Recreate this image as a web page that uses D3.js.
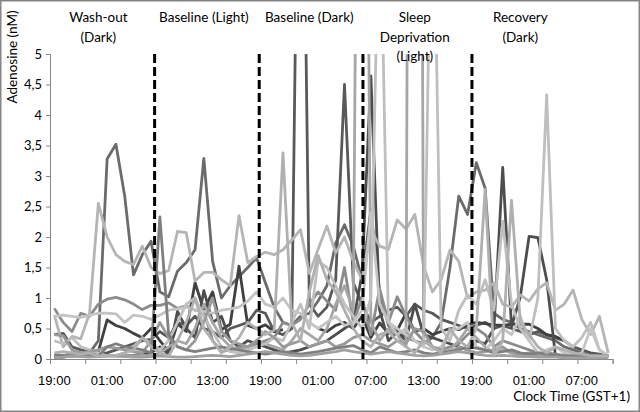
<!DOCTYPE html>
<html><head><meta charset="utf-8">
<script src="https://cdn.jsdelivr.net/npm/d3@7"></script>
<style>html,body{margin:0;padding:0;background:#fff;}svg{display:block;font-family:Lato,"Open Sans",sans-serif;}</style>
</head><body><svg id="c" width="640" height="412"></svg>
<script>
// hourly categories starting 19:00 (64 hours)
const hourLabels = ["19:00","01:00","07:00","13:00","19:00","01:00","07:00","13:00","19:00","01:00","07:00"];
const yTicks = [0,0.5,1,1.5,2,2.5,3,3.5,4,4.5,5];
const phaseNames = [["Wash-out","(Dark)"],["Baseline (Light)"],["Baseline (Dark)"],["Sleep","Deprivation","(Light)"],["Recovery","(Dark)"]];
const phaseCenters = [5.5, 17.5, 29.5, 41.5, 53.5];
const phaseBorders = [11.9, 23.8, 35.6, 48.0];
const seriesColors = ["#6b6b6b","#595959","#404040","#4d4d4d","#8c8c8c","#b5b5b5","#a6a6a6","#bfbfbf","#c4c4c4","#9a9a9a","#7f7f7f","#a0a0a0","#b0b0b0"];
const sA=[0.05,0.05,0.07,0.08,0.1,0.3,3.28,3.52, 2.67,1.38,1.71,1.93,1.1,1.02,1.44,1.58, 1.79,3.29,1.6,1.0,1.2,1.35,1.5,1.66, 1.25,0.85,0.6,0.55,0.7,0.75,0.95,1.2, 1.9,2.2,1.85,1.3,2.45,1.1,0.55,0.45, 0.35,0.3,0.25,0.35,0.6,1.5,2.67,2.37, 3.22,2.8,0.75,0.65,0.6,0.5,0.45,0.4, 0.35,0.3,0.2,0.15,0.1,0.05,0.05,0.05];
const sB=[0.4,0.42,0.2,0.15,0.12,0.08,0.1,0.15, 0.2,0.25,0.3,0.32,0.45,0.35,0.6,0.55, 0.7,0.5,0.45,0.35,0.5,0.55,0.6,0.8, 0.75,0.45,0.4,0.5,12,0.9,0.7,0.85, 1.3,4.5,1.25,0.9,0.6,0.7,0.8,0.85, 0.7,0.9,0.8,0.75,0.65,0.6,0.55,0.5, 0.55,0.6,0.5,0.55,0.5,0.45,0.4,0.45, 0.4,0.35,0.3,0.2,0.15,0.1,0.08,0.05];
const sC=[0.02,0.03,0.05,0.08,0.1,0.12,0.64,0.55, 0.5,0.42,0.35,0.5,0.3,0.12,0.58,0.45, 1.25,0.8,1.1,0.48,0.57,1.52,0.55,0.5, 0.56,0.45,0.48,null,null,null,0.5,0.45, 0.55,0.6,0.5,0.7,0.35,0.59,0.42,0.47, 0.75,0.45,0.5,0.4,0.45,0.5,0.48,0.56, 0.6,0.58,0.56,0.55,0.57,0.57,0.57,0.5, 0.4,0.37,0.3,null,null,null,null,null];
const sD=[0.06,0.05,0.05,0.05,0.05,0.05,0.05,0.05, 0.05,0.06,0.08,0.1,0.2,0.08,0.78,0.5, 0.35,1.12,0.6,0.7,0.3,0.2,0.3,0.25, 0.2,0.15,0.1,0.12,0.15,0.2,0.25,0.3, 0.4,0.5,0.6,1.4,4.64,0.8,0.3,0.45, 0.3,0.9,0.4,0.35,0.3,0.25,0.2,0.15, 0.3,0.25,0.5,3.14,0.53,1.02,2.01,1.99, 1.3,0.05,0.05,0.05,0.05,0.04,0.04,0.04];
const sE=[0.83,0.6,0.45,0.75,0.7,0.9,0.98,1.01, 0.97,0.9,0.81,0.88,0.88,0.92,0.83,0.87, 0.8,0.78,0.3,0.12,0.15,0.2,0.2,0.25, 0.3,0.35,0.6,0.55,0.65,0.9,1.1,0.95, 0.8,1.5,0.6,1.0,0.4,1.15,0.6,1.02, 0.7,0.45,0.3,0.2,0.15,0.2,0.25,0.4, 0.5,0.4,0.2,0.3,0.25,0.2,0.15,0.1, 0.1,0.08,0.06,0.05,0.05,0.05,0.04,0.04];
const sF=[0.72,0.2,0.37,0.33,0.75,2.55,2.0,1.71, 1.6,1.55,1.85,1.5,1.4,1.45,2.09,2.07, 1.28,1.42,1.42,1.3,1.2,2.35,1.58,1.68, 1.75,1.71,1.79,1.95,2.12,1.4,1.8,2.18, 1.74,2.0,1.6,1.3,2.12,1.85,1.8,2.28, 2.13,2.37,1.52,1.1,1.3,1.79,1.6,1.0, 1.1,1.13,1.25,0.9,0.85,1.05,0.95,1.15, 1.25,0.8,0.9,1.13,0.65,0.4,0.7,0.1];
const sG=[0.05,0.04,0.04,0.05,0.05,0.05,0.06,0.05, 0.05,0.05,0.06,0.05,0.1,0.2,0.3,0.25, 0.5,0.9,0.6,0.35,0.2,0.15,0.2,0.3, 0.25,0.2,0.15,0.3,0.5,0.4,0.3,0.5, 0.9,1.2,0.8,20,0.6,0.3,0.5,0.4, 0.2,40,0.3,0.2,0.1,0.15,0.3,0.5, 0.35,0.2,0.1,0.15,0.1,0.08,0.06,0.05, 0.05,0.05,0.04,0.04,0.04,0.04,0.04,0.04];
const sH=[0.3,0.25,0.35,0.2,0.15,0.1,0.05,0.05, 0.1,0.2,0.35,0.25,0.15,0.3,0.6,0.9, 1.0,0.7,0.45,0.2,0.12,0.1,0.15,0.2, 0.25,0.35,0.3,0.6,0.9,0.5,1.6,1.5, 1.2,0.9,0.7,0.5,1.0,8,0.6,0.4, 0.5,0.3,0.2,9,0.5,0.3,0.8,1.05, 0.9,1.3,0.8,2.26,0.9,0.5,0.3,1.0, 4.33,0.5,0.3,0.2,0.35,0.6,0.15,0.05];
const sI=[0.7,0.72,0.7,0.68,0.72,0.75,0.75,0.74, 0.6,0.72,0.7,0.65,0.72,0.8,0.82,0.85, 0.8,0.78,0.75,0.8,0.82,0.85,0.95,1.1, 0.9,0.85,1.0,0.8,0.75,0.6,0.5,0.6, 0.7,0.55,0.6,0.8,2.4,0.9,0.6,0.5, 0.4,0.3,0.2,0.15,0.2,0.45,0.5,0.6, 0.2,0.15,0.3,0.5,0.4,0.7,0.3,0.1, 0.15,0.2,0.1,0.05,0.1,0.5,0.15,0.05];
const sJ=[0.4,0.38,0.15,0.1,0.12,0.15,0.2,0.18, 0.15,0.12,0.1,0.3,0.6,0.35,0.2,0.15, 0.3,0.6,1.0,0.45,0.3,0.25,0.2,0.3, 0.45,0.35,0.2,0.25,0.3,0.2,0.25,0.3, 0.2,0.25,0.35,0.4,0.3,0.25,0.2,0.3, 0.25,0.5,0.45,0.2,0.15,0.1,0.2,0.15, 0.1,0.12,0.15,0.2,0.1,0.08,0.1,0.05, 0.06,0.05,0.05,0.05,0.05,0.05,0.05,0.05];
const sK=[0.08,0.05,0.1,0.08,0.05,0.05,0.2,0.25, 0.2,0.18,0.15,0.1,2.33,0.4,0.2,0.15, 0.12,0.15,0.18,0.2,0.17,0.15,0.12,0.1, 0.08,0.1,0.12,0.1,0.08,0.1,0.12,0.15, 0.18,0.2,0.22,0.15,0.1,0.2,0.15,0.1, 0.12,0.15,0.1,0.08,0.1,0.12,0.15,0.2, 0.18,0.15,0.1,0.12,0.15,0.1,0.08,0.1, 0.08,0.06,0.05,0.05,0.06,0.05,0.05,0.05];
const sL=[0.02,0.03,0.05,0.04,0.03,0.04,0.05,0.05, 0.04,0.03,0.03,0.04,0.05,0.04,0.03,0.03, 0.04,0.05,0.06,0.05,0.04,0.06,0.08,0.1, 0.12,0.1,0.08,0.06,0.05,0.06,0.08,0.1, 0.12,0.15,0.12,0.1,0.08,0.1,0.12,0.1, 0.08,0.06,0.05,0.06,0.08,0.1,0.12,0.1, 0.08,0.06,0.05,0.06,0.05,0.04,0.04,0.03, 0.03,0.03,0.02,0.02,0.02,0.02,0.02,0.02];
const sM=[0.1,0.12,0.1,0.08,0.1,0.05,0.05,0.06, 0.1,0.15,0.35,0.2,0.1,0.05,0.3,0.6, 1.0,0.5,0.3,0.1,0.2,0.35,0.6,0.5, 0.4,0.47,3.38,0.6,0.3,1.1,1.7,1.3, 1.1,0.8,0.5,0.3,0.2,0.4,0.45,0.3, 0.2,0.1,0.3,0.2,0.1,0.5,0.3,0.2, 0.5,2.78,0.05,0.3,2.6,0.6,0.4,0.2, 0.1,0.2,0.15,0.1,0.08,0.05,0.05,0.05];
const allSeries=[sA,sB,sC,sD,sE,sF,sG,sH,sI,sJ,sK,sL,sM];

const svg=d3.select("#c");
const W=640,H=412;
svg.append("rect").attr("x",0.75).attr("y",0.75).attr("width",W-1.5).attr("height",H-1.5).attr("fill","#fff").attr("stroke","#868686").attr("stroke-width",1.5);
const x0=50,x1=612.6,yTop=54,yBot=359;
const nCat=sA.length;
const x=d3.scaleLinear().domain([0,nCat]).range([x0,x1]);
const y=d3.scaleLinear().domain([0,5]).range([yBot,yTop]);

svg.append("defs").append("clipPath").attr("id","pc").append("rect").attr("x",x0).attr("y",yTop).attr("width",x1-x0).attr("height",yBot-yTop+2);

// axes
const yAxis=d3.axisLeft(y).tickValues(yTicks).tickSize(4).tickFormat(d=>String(d).replace(".",","));
const gy=svg.append("g").attr("transform",`translate(${x0},0)`).call(yAxis);
gy.select(".domain").attr("stroke","#868686");
gy.selectAll(".tick line").attr("stroke","#868686");
gy.selectAll(".tick text").attr("font-size",13).attr("fill","#000").attr("font-family","Lato,sans-serif").attr("x",-8);

const gx=svg.append("g").attr("transform",`translate(0,${yBot})`);
const xAxis=d3.axisBottom(x).tickValues(d3.range(0,nCat+1,4)).tickSize(5).tickFormat("");
gx.call(xAxis);
gx.select(".domain").attr("stroke","#868686");
gx.selectAll(".tick line").attr("stroke","#868686");
gx.selectAll("text.hl").data(hourLabels).join("text").attr("class","hl")
  .attr("x",(d,i)=>x(i*6+0.5)).attr("y",26).attr("text-anchor","middle")
  .attr("font-size",13).attr("fill","#000").text(d=>d);

// series
const line=d3.line().defined(d=>d!=null).x((d,i)=>x(i+0.5)).y(d=>y(d));
const gl=svg.append("g").attr("clip-path","url(#pc)");
gl.selectAll("path").data(allSeries).join("path").attr("d",line).attr("fill","none")
  .attr("stroke",(d,i)=>seriesColors[i]).attr("stroke-width",2.8).attr("stroke-linejoin","round");

// phase borders
svg.selectAll("line.pb").data(phaseBorders).join("line").attr("class","pb")
  .attr("x1",d=>x(d)).attr("x2",d=>x(d)).attr("y1",yTop).attr("y2",yBot)
  .attr("stroke","#000").attr("stroke-width",3).attr("stroke-dasharray","9,4");

// phase labels
phaseNames.forEach((lines,i)=>{
  lines.forEach((t,j)=>{
    svg.append("text").attr("x",x(phaseCenters[i])).attr("y",22+j*19.5).attr("text-anchor","middle")
      .attr("font-size",13.5).attr("fill","#000").text(t);
  });
});
// axis titles
svg.append("text").attr("transform","translate(17,57) rotate(-90)").attr("text-anchor","middle").attr("font-size",13.5).attr("fill","#000").text("Adenosine (nM)");
svg.append("text").attr("x",630).attr("y",401).attr("text-anchor","end").attr("font-size",13.5).attr("fill","#000").text("Clock Time (GST+1)");
</script></body></html>
